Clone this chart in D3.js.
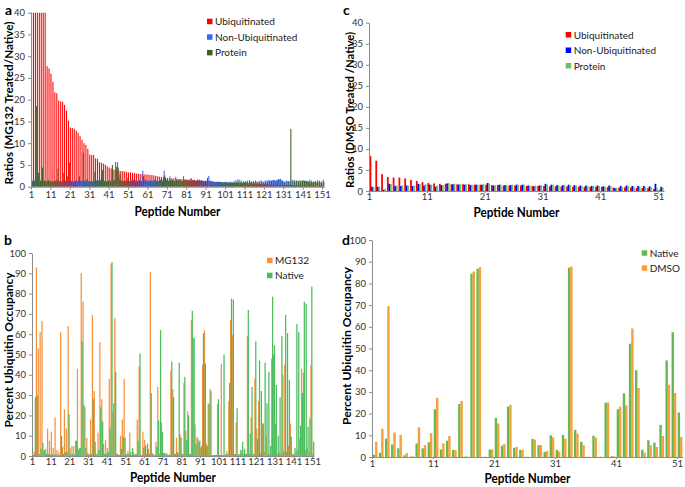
<!DOCTYPE html>
<html>
<head>
<meta charset="utf-8">
<script src="https://cdn.jsdelivr.net/npm/d3@7"></script>
<style>
  body { margin: 0; background: #fff; }
  svg text { font-family: Lato, "Open Sans", sans-serif; }
</style>
</head>
<body>
<svg width="685" height="487"></svg>
<script>
/*
 * Panel a : MG132 treated / native ratios, 151 peptides
 */
var ubiqA = [
  40,40,40,40,40,40,40,40,27.7,27.2,
  26.0,24.1,21.7,21.5,19.8,19.6,19.5,18.8,17.5,15.2,
  13.6,13.5,13.3,12.9,12.4,11.6,10.8,10.0,9.6,8.7,
  7.4,7.3,7.3,6.5,6.4,5.6,5.5,5.3,5.1,4.7,
  4.4,4.2,4.0,3.9,3.8,3.7,3.6,3.6,3.5,3.4,
  3.3,3.3,3.2,3.1,3.0,3.0,2.9,2.9,2.8,2.8,
  2.8,2.7,2.7,2.6,2.5,2.4,2.3,2.2,2.2,2.1,
  2.0,2.0,1.9,1.9,1.9,1.8,1.8,1.7,1.7,1.7,
  1.6,1.6,1.6,1.5,1.5,1.4,1.4,1.3,1.3,1.3,
  1.2,1.2,1.2,1.2,1.1,1.1,1.1,1.1,1.0,1.0,
  1.0,1.0,0.9,0.9,0.9,0.9,0.9,0.8,0.8,0.8,
  0.8,0.8,0.7,0.7,0.7,0.7,0.7,0.6,0.6,0.6,
  0.6,0.6,0.5,0.5,0.5,0.5,0.5,0.5,0.4,0.4,
  0.4,0.4,0.4,0.4,0.4,0.3,0.3,0.3,0.3,0.3,
  0.3,0.3,0.3,0.3,0.2,0.2,0.2,0.2,0.2,0.2,0.1
];
var nonUbiqA = [
  1.3,1.5,1.8,1.4,1.6,1.5,1.2,1.3,1.4,1.3,
  1.3,1.2,1.4,1.5,1.3,1.2,1.6,1.4,1.3,1.2,
  1.4,1.3,1.3,1.4,1.5,1.4,1.3,1.4,1.3,1.2,
  1.3,1.2,1.4,1.3,1.5,1.7,1.4,1.3,1.2,1.3,
  1.5,1.6,1.4,5.7,5.6,1.7,1.4,1.3,1.5,1.4,
  1.3,1.6,1.4,1.5,1.2,1.6,1.4,3.7,1.5,1.4,
  1.3,1.5,1.4,1.6,1.3,1.2,1.5,1.4,3.7,1.6,
  1.4,2.4,1.5,1.3,2.3,1.6,1.4,1.2,2.4,1.5,
  1.6,1.4,2.0,1.5,1.3,1.4,1.3,1.5,1.4,1.2,
  1.3,2.5,1.4,1.3,1.2,1.1,1.2,1.1,1.0,1.1,
  1.1,1.0,1.2,1.1,1.3,1.5,1.7,1.6,1.4,1.2,
  1.3,1.4,1.5,1.2,1.3,1.4,1.1,1.3,1.5,1.2,
  1.4,1.5,1.6,1.4,1.5,1.6,1.5,1.7,1.8,1.5,
  1.2,1.4,1.3,1.4,1.5,1.6,1.4,1.3,1.5,1.4,
  1.5,1.4,1.3,1.6,1.4,1.2,1.3,1.5,1.4,1.2,1.6
];
var proteinA = [
  1.4,1.2,18.5,3.2,1.3,4.4,1.4,1.2,1.5,1.3,
  1.2,1.3,1.4,4.2,1.3,1.2,3.2,1.3,2.4,5.5,
  1.3,1.2,1.4,1.3,2.4,1.3,7.8,1.4,1.8,1.3,
  1.2,1.3,3.4,1.5,1.3,1.4,3.8,1.3,1.2,1.4,
  1.3,5.0,1.5,4.6,4.4,2.8,1.4,1.3,1.2,2.0,
  1.3,1.2,1.6,1.4,1.3,1.5,1.3,2.4,1.6,1.3,
  1.4,1.3,1.2,1.5,1.4,1.3,1.6,1.4,2.6,1.5,
  1.3,1.4,1.6,1.3,1.5,1.4,1.7,1.3,1.5,1.6,
  1.4,1.7,1.5,1.6,1.4,1.7,1.6,1.5,1.3,1.4,
  2.0,1.3,1.2,1.1,1.0,1.1,1.0,1.1,1.0,1.0,
  1.0,0.9,1.0,0.9,1.0,1.0,1.1,1.0,0.9,1.1,
  1.0,0.9,1.1,1.0,1.0,1.2,1.1,1.0,1.1,1.0,
  1.1,1.2,1.3,1.4,1.5,1.3,1.6,1.7,1.4,1.2,
  1.0,1.3,1.2,13.3,1.3,1.2,1.4,1.3,1.2,1.4,
  1.3,1.3,1.2,1.1,1.0,1.1,1.0,1.1,1.0,0.9,1.1
];

/*
 * Panel b : percent ubiquitin occupancy, 151 peptides
 */
var mg132B = [
  3,2,93,53,61,66.5,2.5,3.5,13.5,7.5,
  12,4,19,3,2,61,4.5,23,13.5,64,
  4,5,5,7.5,43,4,90,76,24,9,
  1,18,69.5,32,1,11.5,56,28,6,8,
  4,38,94.5,22,68,1,0.5,10,18,38,
  1,2.5,11.5,0.5,2,1,18,44,0.5,12,
  8,1,3.5,90.5,1.5,0.5,7,34,1,16.5,
  1.5,0.5,1,0.5,42,33,1,9,1,10.5,
  1,36,12.5,22,1,67,58.5,15.5,9.5,6.5,
  4,45,62,6,26,33,0.5,0.5,0.5,25.5,
  0.5,45.5,0.5,0.5,2.5,27,67,59.5,1,16.5,
  0.5,1,2.5,1,1,59,1,19,1,38,
  13.5,27,1,16,2,10,1,1,48,50,
  16,1,2,1,40,45,2,5,16,1,
  0.5,2,3,8.5,43,41,3,4,2,45,1
];
var nativeB = [
  0.5,29,30,1,3.5,6.5,3,1,1,0.5,
  1,0.5,1,0.5,0.5,10,1,2,2,20.5,
  1,1,0.5,7.5,3,4,56.5,25,4,1.5,
  0.5,1,28,7,1,3,24,17,1,1,
  2,13.5,95.5,26,41.5,1,0.5,3.5,9.5,9,
  1,1,2,4,0.5,1,7.5,50.5,0.5,4,
  5,6,1,31,1,0.5,4.5,17.5,62,12,
  1.5,1.5,0.5,1,46.5,29,1,2,46,9,
  1,39,8,20,1,71.5,58,6,8.5,7.5,
  5,60.5,45.5,5,25.5,32,0.5,0.5,0.5,28,
  0.5,0.5,50,1,1,36,77.5,77,1,23.5,
  1,3,7,3.5,1,72,11,34,1,56.5,
  8.5,47,32,16,46,26,41.5,5,78.5,54.5,
  35,10,29,59,2.5,69.5,60.5,37.5,9.5,1,
  4,65,61,15,31,76,75,14.5,18.5,83.5,7
];

/*
 * Panel c : DMSO treated / native ratios, 51 peptides
 */
var ubiqC = [
  8.3,7.2,4.0,3.3,3.2,3.2,3.0,2.6,2.4,2.1,
  1.9,1.8,1.7,1.7,1.6,1.6,1.6,1.6,1.5,1.5,
  1.5,1.4,1.4,1.3,1.3,1.3,1.3,1.2,1.2,1.2,
  1.2,1.1,1.1,1.1,1.1,1.0,1.0,1.0,1.0,1.0,
  1.0,0.9,0.8,0.8,0.9,0.8,0.7,0.7,0.7,0.5,0.3
];
var nonUbiqC = [
  1.0,1.0,0.3,1.7,1.2,1.2,1.3,1.2,1.7,1.3,
  1.5,1.0,1.4,1.8,1.6,1.5,1.5,1.4,1.5,1.5,
  1.9,1.3,1.5,1.4,1.4,1.5,1.5,1.3,1.1,1.3,
  1.7,1.5,1.4,1.4,1.5,1.4,1.3,1.3,1.2,1.3,
  1.1,1.3,0.7,1.2,1.3,1.2,1.2,1.2,1.1,1.7,1.0
];
var proteinC = [
  1.0,1.0,0.5,1.7,1.3,1.3,1.3,1.3,1.7,1.6,
  1.5,1.3,1.4,1.9,1.7,1.7,1.6,1.5,1.5,1.6,
  1.7,1.4,1.5,1.4,1.5,1.5,1.5,1.3,1.3,1.4,
  1.5,1.5,1.3,1.4,1.4,1.3,1.2,1.2,1.2,1.2,
  1.0,1.2,0.8,0.9,1.2,1.1,1.1,1.0,0.9,0.8,0.8
];

/*
 * Panel d : percent ubiquitin occupancy, 51 peptides
 */
var nativeD = [
  1,2,8.5,5.8,4,0.8,0.2,6.2,4,6.8,
  22,3.5,7.5,3.3,24.4,0.2,84.5,86.8,0.1,3.4,
  18,5.2,23.2,4.2,3.3,0.1,8.3,5.5,2.3,10,
  3.3,10.2,87.2,12.5,7,0.1,9.8,0.1,25,0.3,
  22,29.3,52.2,40,3.3,7.7,6.6,14.8,44.5,57.5,20.5
];
var dmsoD = [
  7,13,69.5,11.3,10.2,1.8,0.3,13.7,5.5,11,
  27.3,6.3,9.7,3.2,25.8,0.2,85.5,87.5,0.1,3.5,
  15.5,6,24,4.7,3.3,0.1,8,5.5,2.8,9,
  2.5,8.5,87.8,10.8,5.5,0.1,9,0.1,25.2,0.3,
  23.2,23.8,59.2,31.8,2,5.5,4.6,9.7,33.3,29.5,9.2
];

var svg = d3.select("svg"),
    axisColor = "#8c8c8c";

/*
 * Draws one grouped bar panel
 */
function drawPanel(p) {
  var g = svg.append("g");
  var n = p.series[0].length;
  var cats = d3.range(1, n + 1);

  var x = d3.scaleBand().domain(cats).range([p.left, p.right])
      .paddingInner(p.gap).paddingOuter(p.gap / 2);
  var xs = d3.scaleBand().domain(d3.range(p.series.length)).range([0, x.bandwidth()]);
  // tick labels sit on the left edge of their category
  var xt = d3.scaleLinear().domain([1, n + 1]).range([p.left, p.right]);
  var y = d3.scaleLinear().domain([0, p.ymax]).range([p.bottom, p.top]).clamp(true);

  // bars a bit wider than their slot overlap the next series (Excel-like overlap)
  var bw = xs.bandwidth() * p.barScale;
  p.series.forEach(function(vals, si) {
    g.append("g")
      .selectAll("rect")
      .data(vals)
      .enter().append("rect")
        .attr("x", function(d, i) { return x(i + 1) + xs(si); })
        .attr("width", bw)
        .attr("y", function(d) { return y(d); })
        .attr("height", function(d) { return p.bottom - y(d); })
        .attr("fill", p.colors[si]);
  });

  var ya = g.append("g")
      .attr("transform", "translate(" + p.left + ",0)")
      .call(d3.axisLeft(y).tickValues(d3.range(0, p.ymax + 1, p.ystep))
        .tickSize(3).tickSizeOuter(0).tickPadding(3));
  var xa = g.append("g")
      .attr("transform", "translate(0," + p.bottom + ")")
      .call(d3.axisBottom(xt).tickValues(d3.range(1, n + 1, 10))
        .tickFormat(d3.format("d")).tickSize(p.xTick[0]).tickSizeOuter(0).tickPadding(p.xTick[1]));
  [ya, xa].forEach(function(a) {
    a.select(".domain").attr("stroke", axisColor);
    a.selectAll(".tick line").attr("stroke", axisColor);
    a.selectAll(".tick text").attr("fill", "#333").style("font-size", "9.5px");
  });

  g.append("text")
      .attr("x", p.letter[0]).attr("y", p.letter[1])
      .style("font-size", "14px").style("font-weight", "bold")
      .text(p.name);
  g.append("text")
      .attr("x", (p.left + p.right) / 2).attr("y", p.xTitleY)
      .attr("text-anchor", "middle")
      .attr("textLength", 86).attr("lengthAdjust", "spacingAndGlyphs")
      .style("font-size", "13px").style("font-weight", "bold")
      .text("Peptide Number");
  g.append("text")
      .attr("transform", "translate(" + p.yTitle[0] + "," + p.yTitle[1] + ") rotate(-90)")
      .attr("text-anchor", "middle").attr("dy", "0.35em")
      .attr("textLength", p.yTitle[2]).attr("lengthAdjust", "spacingAndGlyphs")
      .style("font-size", "12px").style("font-weight", "bold")
      .text(p.yLabel);

  var leg = g.append("g").selectAll("g")
      .data(p.legend)
      .enter().append("g")
        .attr("transform", function(d, i) {
          return "translate(" + p.legendPos[0] + "," + (p.legendPos[1] + i * p.legendStep) + ")";
        });
  leg.append("rect")
      .attr("x", 0).attr("y", -3).attr("width", 5.5).attr("height", 5.5)
      .attr("fill", function(d) { return d.color; });
  leg.append("text")
      .attr("x", 8).attr("dy", "0.35em")
      .style("font-size", "10px").attr("fill", "#222")
      .text(function(d) { return d.label; });
}

drawPanel({
  name: "a", letter: [5, 15],
  series: [ubiqA, nonUbiqA, proteinA],
  colors: ["#ff0000", "#3366ff", "#3d5f22"],
  left: 31, right: 324, top: 12.7, bottom: 186.7, gap: 0.05, barScale: 1.7,
  ymax: 40, ystep: 5, xTick: [3, 2],
  xTitleY: 216, yTitle: [9, 103, 163], yLabel: "Ratios (MG132 Treated/Native)",
  legend: [{label: "Ubiquitinated", color: "#ff0000"},
           {label: "Non-Ubiquitinated", color: "#3366ff"},
           {label: "Protein", color: "#3d5f22"}],
  legendPos: [207, 21.7], legendStep: 15.6
});

drawPanel({
  name: "c", letter: [343, 15],
  series: [ubiqC, nonUbiqC, proteinC],
  colors: ["#ff0000", "#0000ff", "#6cbf6c"],
  left: 369, right: 664, top: 22.7, bottom: 191, gap: 0.2, barScale: 1.15,
  ymax: 40, ystep: 5, xTick: [2, 0],
  xTitleY: 217, yTitle: [350, 110, 156], yLabel: "Ratios (DMSO Treated /Native)",
  legend: [{label: "Ubiquitinated", color: "#ff0000"},
           {label: "Non-Ubiquitinated", color: "#0000ff"},
           {label: "Protein", color: "#6cbf6c"}],
  legendPos: [565.7, 35], legendStep: 15.5
});

drawPanel({
  name: "b", letter: [4, 245],
  series: [mg132B, nativeB],
  colors: ["#f6913c", "#4cbb5e"],
  left: 32, right: 314, top: 253, bottom: 456, gap: 0.05, barScale: 1.4,
  ymax: 100, ystep: 10, xTick: [2, 0],
  xTitleY: 482, yTitle: [9, 350, 155], yLabel: "Percent Ubiquitin Occupancy",
  legend: [{label: "MG132", color: "#f6913c"},
           {label: "Native", color: "#4cbb5e"}],
  legendPos: [267, 260.7], legendStep: 15
});

drawPanel({
  name: "d", letter: [342, 245],
  series: [nativeD, dmsoD],
  colors: ["#66b84f", "#f7a03c"],
  left: 372, right: 683, top: 240, bottom: 457, gap: 0.25, barScale: 1.05,
  ymax: 100, ystep: 10, xTick: [2, 1],
  xTitleY: 483, yTitle: [347, 346, 158], yLabel: "Percent Ubiquitin Occupancy",
  legend: [{label: "Native", color: "#66b84f"},
           {label: "DMSO", color: "#f7a03c"}],
  legendPos: [641.7, 253.3], legendStep: 15
});
</script>
</body>
</html>
